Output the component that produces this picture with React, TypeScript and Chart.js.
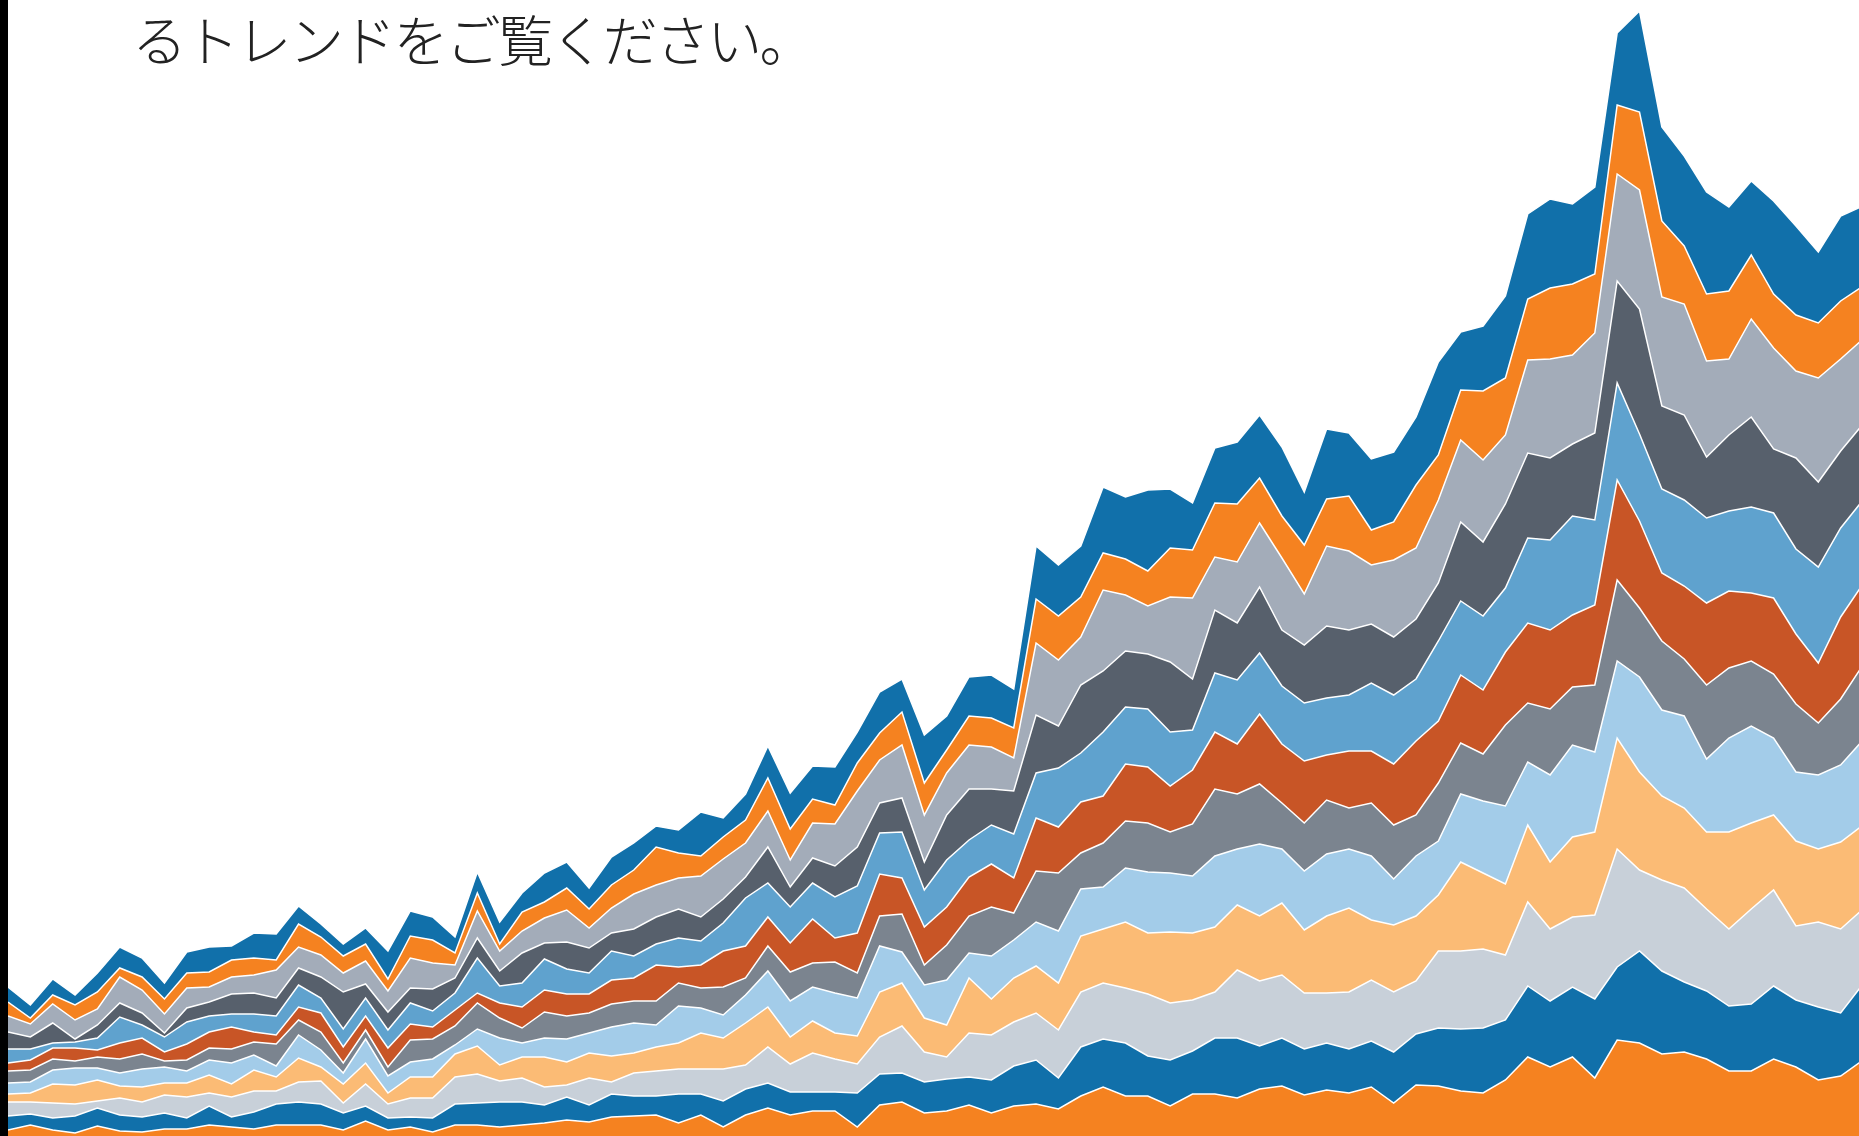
import React, { useEffect, useRef } from "react";
import { Chart, registerables } from "chart.js";

Chart.register(...registerables);

const titleText = "るトレンドをご覧ください。";

const periods = [
  "1", "2", "3", "4", "5", "6", "7", "8", "9", "10", "11", "12",
  "13", "14", "15", "16", "17", "18", "19", "20", "21", "22", "23", "24",
  "25", "26", "27", "28", "29", "30", "31", "32", "33", "34", "35", "36",
  "37", "38", "39", "40", "41", "42", "43", "44", "45", "46", "47", "48",
  "49", "50", "51", "52", "53", "54", "55", "56", "57", "58", "59", "60",
  "61", "62", "63", "64", "65", "66", "67", "68", "69", "70", "71", "72",
  "73", "74", "75", "76", "77", "78", "79", "80", "81", "82", "83", "84",
];

// bottom layer first
const series01 = [6, 11, 6, 3, 10, 5, 4, 7, 7, 11, 9, 7, 11, 11, 11, 6, 15, 6, 9, 4, 11, 11, 9, 11, 13, 16, 14, 19, 20, 21, 13, 21, 9, 21, 28, 21, 25, 25, 9, 31, 34, 23, 25, 31, 23, 30, 32, 27, 40, 49, 40, 40, 30, 42, 42, 38, 47, 50, 41, 46, 43, 49, 33, 51, 50, 45, 43, 56, 79, 69, 79, 58, 96, 93, 82, 84, 77, 65, 65, 77, 69, 56, 60, 76];
const series02 = [14, 11, 12, 17, 18, 16, 15, 16, 11, 19, 10, 17, 21, 23, 21, 17, 15, 12, 10, 14, 21, 22, 25, 23, 18, 23, 17, 23, 20, 19, 29, 21, 26, 26, 25, 23, 19, 19, 34, 31, 29, 31, 32, 28, 33, 40, 44, 31, 49, 48, 53, 40, 46, 43, 56, 60, 43, 48, 46, 47, 44, 46, 51, 51, 58, 62, 65, 60, 71, 66, 70, 79, 73, 92, 83, 70, 68, 65, 67, 73, 67, 73, 63, 76];
const series03 = [14, 12, 15, 12, 7, 17, 15, 18, 21, 13, 20, 21, 13, 20, 23, 10, 22, 14, 19, 20, 27, 29, 21, 24, 18, 12, 27, 12, 23, 25, 25, 25, 32, 24, 36, 28, 39, 33, 29, 37, 47, 30, 22, 44, 45, 44, 47, 48, 55, 56, 55, 62, 57, 51, 46, 68, 65, 63, 56, 50, 57, 61, 60, 53, 77, 78, 79, 65, 84, 72, 70, 84, 118, 81, 91, 94, 82, 77, 95, 96, 74, 85, 84, 75];
const series04 = [8, 9, 19, 19, 21, 12, 15, 12, 14, 18, 13, 21, 14, 24, 14, 19, 21, 11, 21, 21, 23, 28, 16, 21, 30, 23, 25, 26, 20, 24, 26, 36, 31, 42, 40, 27, 32, 26, 28, 45, 43, 34, 32, 55, 36, 44, 47, 47, 56, 54, 66, 61, 71, 67, 65, 65, 65, 72, 63, 77, 84, 60, 67, 65, 56, 89, 76, 71, 77, 67, 80, 83, 111, 98, 84, 80, 77, 97, 86, 75, 85, 73, 87, 84];
const series05 = [11, 11, 14, 17, 12, 13, 18, 16, 12, 15, 21, 15, 11, 23, 17, 11, 24, 17, 15, 18, 9, 17, 27, 14, 19, 23, 20, 29, 30, 22, 37, 25, 23, 28, 36, 36, 34, 40, 38, 46, 31, 33, 45, 25, 43, 38, 44, 52, 47, 42, 54, 61, 59, 57, 71, 56, 72, 54, 59, 62, 59, 64, 46, 60, 54, 68, 72, 78, 63, 87, 92, 80, 77, 95, 86, 92, 73, 94, 97, 77, 69, 74, 77, 85];
const series06 = [12, 12, 11, 7, 11, 14, 15, 6, 11, 12, 14, 13, 22, 15, 18, 10, 9, 9, 22, 20, 19, 26, 20, 15, 26, 23, 20, 23, 22, 24, 23, 20, 28, 17, 25, 29, 24, 31, 25, 30, 38, 20, 35, 37, 49, 27, 51, 58, 36, 44, 47, 49, 41, 52, 67, 55, 60, 46, 48, 54, 41, 53, 54, 41, 58, 51, 47, 81, 59, 66, 58, 67, 81, 69, 69, 57, 74, 70, 65, 64, 68, 52, 66, 75];
const series07 = [8, 10, 11, 13, 7, 16, 16, 9, 16, 16, 22, 10, 9, 13, 19, 16, 14, 19, 16, 12, 16, 10, 15, 21, 22, 22, 19, 24, 23, 36, 16, 23, 36, 32, 29, 29, 44, 24, 40, 42, 36, 38, 38, 39, 43, 35, 53, 46, 51, 47, 57, 56, 46, 54, 57, 50, 70, 59, 62, 45, 57, 52, 61, 74, 62, 68, 64, 73, 80, 79, 72, 80, 100, 87, 68, 73, 82, 77, 68, 76, 70, 60, 82, 81];
const series08 = [14, 11, 5, 6, 12, 26, 13, 15, 22, 16, 13, 18, 19, 22, 15, 18, 18, 18, 21, 16, 17, 35, 17, 24, 31, 25, 21, 29, 22, 21, 29, 24, 28, 48, 34, 36, 36, 41, 47, 41, 46, 37, 47, 37, 39, 44, 45, 59, 49, 64, 57, 58, 54, 40, 59, 64, 61, 58, 58, 57, 56, 68, 69, 62, 80, 74, 74, 64, 85, 90, 99, 85, 97, 87, 84, 86, 85, 80, 86, 85, 85, 96, 89, 84];
const series09 = [17, 12, 20, 3, 13, 14, 12, 4, 14, 14, 20, 21, 18, 17, 21, 37, 14, 18, 15, 22, 15, 20, 15, 30, 16, 27, 25, 18, 27, 27, 29, 24, 24, 21, 36, 20, 25, 31, 39, 30, 34, 28, 45, 51, 36, 43, 58, 42, 68, 61, 56, 55, 70, 51, 63, 57, 66, 56, 58, 72, 65, 59, 58, 60, 58, 79, 74, 84, 85, 82, 72, 87, 102, 125, 83, 85, 61, 76, 90, 64, 91, 85, 77, 76];
const series10 = [16, 13, 19, 19, 16, 26, 23, 19, 20, 15, 17, 18, 28, 21, 22, 19, 23, 21, 30, 26, 13, 27, 20, 22, 25, 32, 20, 25, 35, 32, 31, 41, 40, 34, 36, 27, 35, 42, 56, 43, 53, 47, 42, 44, 42, 33, 72, 66, 48, 81, 56, 48, 65, 81, 53, 61, 64, 72, 51, 80, 79, 59, 77, 71, 83, 82, 82, 69, 93, 99, 89, 100, 107, 119, 109, 111, 96, 76, 98, 101, 87, 104, 92, 85];
const series11 = [14, 6, 9, 15, 17, 9, 13, 15, 15, 15, 17, 17, 10, 23, 18, 17, 17, 12, 22, 23, 12, 18, 7, 19, 16, 22, 19, 23, 24, 38, 25, 20, 22, 23, 33, 31, 24, 19, 28, 27, 33, 32, 23, 29, 29, 30, 44, 44, 40, 37, 36, 35, 49, 48, 54, 58, 45, 42, 49, 47, 55, 35, 38, 63, 45, 50, 69, 57, 61, 71, 71, 59, 69, 78, 76, 58, 67, 68, 64, 54, 56, 55, 58, 53];
const series12 = [15, 13, 16, 10, 19, 21, 19, 16, 21, 25, 14, 25, 26, 18, 13, 12, 16, 28, 25, 23, 16, 21, 22, 19, 29, 26, 21, 28, 27, 21, 23, 44, 19, 26, 32, 36, 33, 38, 31, 41, 33, 48, 34, 39, 43, 39, 53, 51, 51, 66, 62, 81, 59, 47, 55, 62, 63, 69, 53, 70, 63, 71, 70, 68, 93, 58, 65, 82, 85, 89, 80, 87, 72, 101, 94, 90, 102, 84, 74, 93, 89, 71, 85, 80];

const seriesNames = ["系列1", "系列2", "系列3", "系列4", "系列5", "系列6", "系列7", "系列8", "系列9", "系列10", "系列11", "系列12"];
const seriesColors = ["#f58220", "#1170aa", "#c8d0d9", "#fbbb75", "#a3cce9", "#7b848f", "#c85526", "#5fa2ce", "#57606c", "#a3acb9", "#f58220", "#1170aa"];
const allSeries = [series01, series02, series03, series04, series05, series06, series07, series08, series09, series10, series11, series12];

const Y_MAX = 1136;

export default function App() {
  const canvasRef = useRef<HTMLCanvasElement | null>(null);

  useEffect(() => {
    const canvas = canvasRef.current;
    if (!canvas) return;
    const chart = new Chart(canvas, {
      type: "line",
      data: {
        labels: periods,
        datasets: allSeries.map((values, i) => ({
          label: seriesNames[i],
          data: values,
          backgroundColor: seriesColors[i],
          borderColor: "#ffffff",
          borderWidth: 1.5,
          pointRadius: 0,
          pointHoverRadius: 0,
          tension: 0,
          fill: i === 0 ? "origin" : "-1",
        })),
      },
      options: {
        responsive: false,
        animation: false,
        devicePixelRatio: 1,
        layout: { padding: 0 },
        plugins: {
          legend: { display: false },
          tooltip: { enabled: false },
          title: { display: false },
        },
        scales: {
          x: { type: "category", display: false, offset: false, grid: { display: false } },
          y: { stacked: true, display: false, min: 0, max: Y_MAX, grid: { display: false } },
        },
      },
    });
    return () => chart.destroy();
  }, []);

  return (
    <div style={{ position: "fixed", left: 0, top: 0, width: "100vw", height: "100vh", overflow: "hidden", background: "#ffffff" }}>
      <canvas
        ref={canvasRef}
        width={1855}
        height={1136}
        style={{ position: "absolute", left: 8, top: 0, width: 1855, height: 1136 }}
      />
      <div style={{ position: "absolute", left: 0, top: 0, width: 8, height: "100%", background: "#000000" }} />
      <div
        style={{
          position: "absolute",
          left: 132,
          top: 10,
          fontFamily: '"Noto Sans CJK JP", "Noto Sans", sans-serif',
          fontWeight: 300,
          fontSize: 55,
          lineHeight: "55px",
          letterSpacing: "-2.7px",
          color: "#222222",
          whiteSpace: "nowrap",
        }}
      >
        {titleText}
      </div>
    </div>
  );
}
